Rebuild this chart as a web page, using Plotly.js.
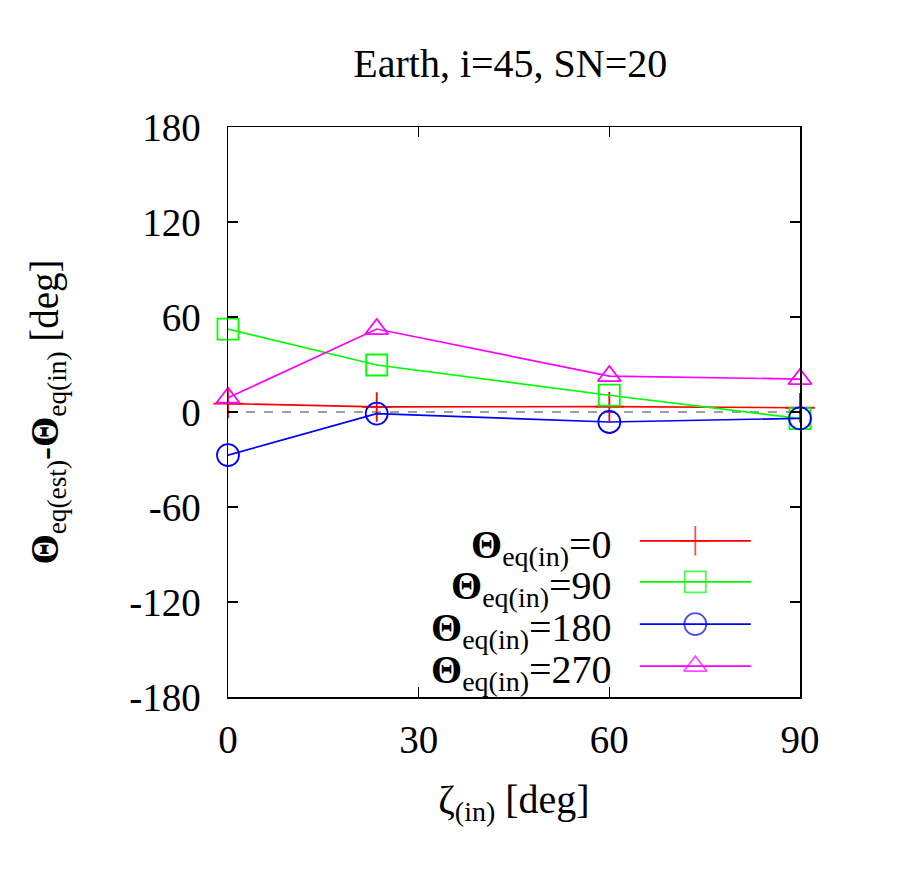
<!DOCTYPE html>
<html>
<head>
<meta charset="utf-8">
<script src="https://cdn.plot.ly/plotly-3.0.1.min.js"></script>
<style>
  html, body { margin: 0; padding: 0; background: #fff; }
  #chart { width: 900px; height: 872px; }
</style>
</head>
<body>
<div id="chart"></div>
<script>
// zeta_(in) values (deg)
var zeta = [0, 23.4, 60, 90];

// Theta_eq(est) - Theta_eq(in) for each input Theta_eq(in)
var theta0   = [5.3, 3.2, 3.4, 2.7];
var theta90  = [52.4, 29.7, 10.6, -4.2];
var theta180 = [-27.2, -1.0, -6.3, -4.0];
var theta270 = [9.0, 52.4, 22.7, 20.8];

var seriesNames = ['0', '90', '180', '270'];
var seriesValues = [theta0, theta90, theta180, theta270];
var colors = ['#ff0000', '#00ff00', '#0000ff', '#ff00ff'];
var symbols = ['cross-thin-open', 'square-open', 'circle-open', 'triangle-up-open'];
var sizes = [21, 21, 22, 20];

var yTicks = [-180, -120, -60, 0, 60, 120, 180];
var xTicks = [0, 30, 60, 90];

var font = 'Liberation Serif, Times New Roman, serif';

var traces = [];
var annotations = [];

// where the gnuplot-style key sits (fractions of the plot area)
var keyX = [0.72, 0.914];
var keyRows = [0.274, 0.202, 0.128, 0.054];

for (var i = 0; i < seriesValues.length; i++) {
  traces.push({
    x: zeta,
    y: seriesValues[i],
    mode: 'lines+markers',
    type: 'scatter',
    cliponaxis: false,
    showlegend: false,
    line: { color: colors[i], width: 1.7 },
    marker: { symbol: symbols[i], size: sizes[i], color: colors[i], line: { color: colors[i], width: 1.8 } }
  });

  // key sample: line with one marker in the middle
  traces.push({
    x: [keyX[0], (keyX[0] + keyX[1]) / 2, keyX[1]],
    y: [keyRows[i], keyRows[i], keyRows[i]],
    xaxis: 'x2',
    yaxis: 'y2',
    mode: 'lines+markers',
    type: 'scatter',
    showlegend: false,
    hoverinfo: 'skip',
    line: { color: colors[i], width: 1.7 },
    marker: {
      symbol: symbols[i],
      size: [0, sizes[i], 0],
      color: colors[i],
      line: { color: colors[i], width: 1.8 }
    }
  });

  annotations.push({
    xref: 'paper', yref: 'paper',
    x: 0.675, y: keyRows[i],
    xanchor: 'right', yanchor: 'middle',
    yshift: -6,
    showarrow: false,
    text: '<b>Θ</b><sub>eq(in)</sub>=' + seriesNames[i],
    font: { family: font, size: 40, color: '#000' }
  });
}

var layout = {
  width: 900,
  height: 872,
  paper_bgcolor: '#fff',
  plot_bgcolor: '#fff',
  font: { family: font, size: 38, color: '#000' },
  margin: { l: 228, r: 100, t: 127, b: 175 },
  showlegend: false,
  title: {
    text: 'Earth, i=45, SN=20',
    font: { family: font, size: 40, color: '#000' },
    x: 0.567, xanchor: 'center',
    y: 0.928, yanchor: 'middle'
  },
  xaxis: {
    range: [0, 90],
    tickvals: xTicks,
    ticktext: xTicks.map(String),
    ticks: 'inside',
    ticklen: 10,
    tickwidth: 1.5,
    tickcolor: '#000',
    showline: true,
    linecolor: '#000',
    linewidth: 1.5,
    mirror: 'ticks',
    showgrid: false,
    zeroline: false,
    layer: 'above traces',
    ticklabelstandoff: 8,
    tickfont: { family: font, size: 39 },
    title: {
      text: 'ζ<sub>(in)</sub> [deg]',
      font: { family: font, size: 40 },
      standoff: 24
    }
  },
  yaxis: {
    range: [-180, 180],
    tickvals: yTicks,
    ticktext: yTicks.map(String),
    ticks: 'inside',
    ticklen: 10,
    tickwidth: 1.5,
    tickcolor: '#000',
    showline: true,
    linecolor: '#000',
    linewidth: 1.5,
    mirror: 'ticks',
    showgrid: false,
    zeroline: false,
    layer: 'above traces',
    ticklabelstandoff: 18,
    tickfont: { family: font, size: 39 },
    title: {
      text: '<b>Θ</b><sub>eq(est)</sub>-<b>Θ</b><sub>eq(in)</sub> [deg]',
      font: { family: font, size: 39 },
      standoff: 58
    }
  },
  xaxis2: { overlaying: 'x', range: [0, 1], visible: false, fixedrange: true },
  yaxis2: { overlaying: 'y', range: [0, 1], visible: false, fixedrange: true },
  shapes: [{
    type: 'line',
    xref: 'paper', yref: 'y',
    x0: 0, x1: 1, y0: 0, y1: 0,
    line: { color: '#808080', width: 1.5, dash: 'dash' },
    layer: 'below'
  }],
  annotations: annotations
};

Plotly.newPlot('chart', traces, layout, { displayModeBar: false, staticPlot: true });
</script>
</body>
</html>
